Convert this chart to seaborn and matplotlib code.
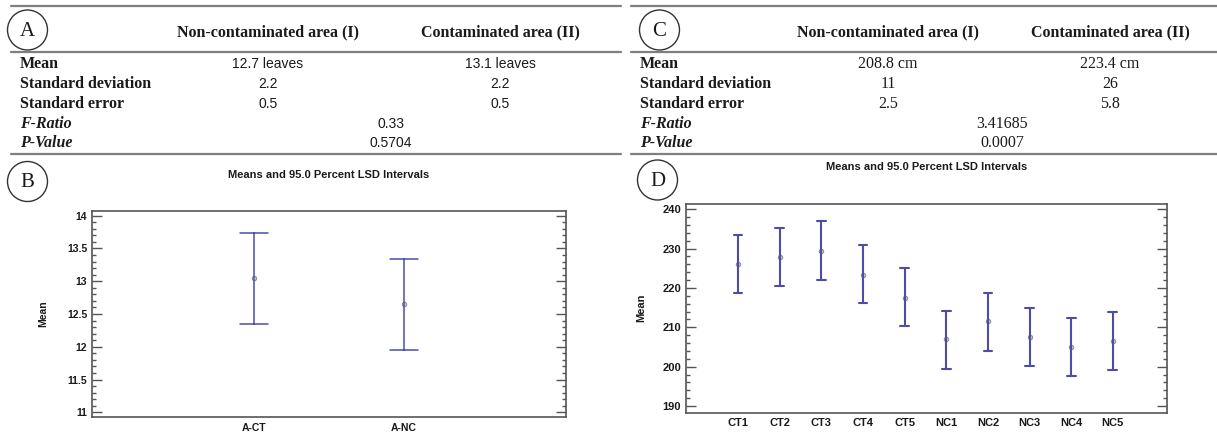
import numpy as np
import pandas as pd
import seaborn as sns
import matplotlib
matplotlib.use("Agg")
import matplotlib.pyplot as plt
from matplotlib.patches import Ellipse
from matplotlib.lines import Line2D
from matplotlib.ticker import MultipleLocator

# ---------------- data ----------------
row_labels = ["Mean", "Standard deviation", "Standard error", "F-Ratio", "P-Value"]
col_headers = ["Non-contaminated area (I)", "Contaminated area (II)"]

a_noncont = ["12.7 leaves", "2.2", "0.5"]
a_cont = ["13.1 leaves", "2.2", "0.5"]
a_fratio = "0.33"
a_pvalue = "0.5704"

c_noncont = ["208.8 cm", "11", "2.5"]
c_cont = ["223.4 cm", "26", "5.8"]
c_fratio = "3.41685"
c_pvalue = "0.0007"

plot_title = "Means and 95.0 Percent LSD Intervals"

b_groups = ["A-CT", "A-NC"]
b_mean = [13.05, 12.65]
b_low = [12.34, 11.95]
b_high = [13.74, 13.34]
b_yticks = [11, 11.5, 12, 12.5, 13, 13.5, 14]
b_yticklabels = ["11", "11.5", "12", "12.5", "13", "13.5", "14"]

d_groups = ["CT1", "CT2", "CT3", "CT4", "CT5", "NC1", "NC2", "NC3", "NC4", "NC5"]
d_mean = [226.0, 227.9, 229.4, 223.4, 217.5, 207.0, 211.5, 207.6, 205.0, 206.5]
d_low = [218.8, 220.5, 222.0, 216.1, 210.3, 199.4, 204.0, 200.2, 197.5, 199.2]
d_high = [233.5, 235.2, 236.9, 230.8, 225.0, 214.2, 218.8, 215.0, 212.3, 213.9]
d_yticks = [190, 200, 210, 220, 230, 240]

# ---------------- style ----------------
sns.set_style("white")
plt.rcParams["font.family"] = ["Liberation Sans", "DejaVu Sans"]

W, H = 1217, 434
fig = plt.figure(figsize=(W / 100, H / 100), dpi=100)

def fx(px):
    return px / W

def fy(py):
    return 1 - py / H

TXT = "#1a1a1a"
LINE = "#7f7f7f"
EBAR = "#4d4da8"
SPINE = "#555555"
SERIF = ["Liberation Serif", "DejaVu Serif"]
SANS = ["Liberation Sans", "DejaVu Sans"]


def circle_label(cx, cy, letter):
    e = Ellipse((fx(cx), fy(cy)), 40 / W, 40 / H, transform=fig.transFigure,
                fill=False, edgecolor="#333333", linewidth=1.0)
    fig.add_artist(e)
    fig.text(fx(cx), fy(cy + 1), letter, family=SERIF, fontsize=15, color=TXT,
             ha="center", va="center")


def hline(x0, x1, y):
    fig.add_artist(Line2D([fx(x0), fx(x1)], [fy(y), fy(y)], transform=fig.transFigure,
                          color=LINE, linewidth=1.6))


def table(x_lab, x_c1, x_c2, x_mid, x_line0, x_line1, circ_x, letter,
          noncont, cont, fratio, pvalue, val_family, val_size):
    hline(x_line0, x_line1, 6)
    hline(x_line0, x_line1, 52)
    hline(x_line0, x_line1, 154)
    circle_label(circ_x, 30, letter)
    fig.text(fx(x_c1), fy(32), col_headers[0], family=SERIF, fontsize=11.5,
             fontweight="bold", color=TXT, ha="center", va="center")
    fig.text(fx(x_c2), fy(32), col_headers[1], family=SERIF, fontsize=11.5,
             fontweight="bold", color=TXT, ha="center", va="center")
    row_y = [64, 83.5, 103.5, 123.5, 143.5]
    for i, lab in enumerate(row_labels):
        style = "italic" if i >= 3 else "normal"
        fig.text(fx(x_lab), fy(row_y[i]), lab, family=SERIF, fontsize=11.5,
                 fontweight="bold", fontstyle=style, color=TXT, ha="left", va="center")
    for i in range(3):
        fig.text(fx(x_c1), fy(row_y[i]), noncont[i], family=val_family, fontsize=val_size,
                 color=TXT, ha="center", va="center")
        fig.text(fx(x_c2), fy(row_y[i]), cont[i], family=val_family, fontsize=val_size,
                 color=TXT, ha="center", va="center")
    fig.text(fx(x_mid), fy(row_y[3]), fratio, family=val_family, fontsize=val_size,
             color=TXT, ha="center", va="center")
    fig.text(fx(x_mid), fy(row_y[4]), pvalue, family=val_family, fontsize=val_size,
             color=TXT, ha="center", va="center")


table(20, 268, 500, 391, 11, 621, 27.5, "A", a_noncont, a_cont, a_fratio, a_pvalue, SANS, 10)
table(640, 888, 1110, 1002, 631, 1217, 659.5, "C", c_noncont, c_cont, c_fratio, c_pvalue, SERIF, 11.5)


def long_df(groups, low, mean, high):
    rows = []
    for g, lo, m, hi in zip(groups, low, mean, high):
        for v in (lo, m, hi):
            rows.append({"group": g, "value": v})
    return pd.DataFrame(rows)


def interval_plot(ax, df, groups, capsize, lw, fs):
    sns.pointplot(data=df, x="group", y="value", order=groups,
                  estimator="median", errorbar=lambda v: (np.min(v), np.max(v)),
                  capsize=capsize, color=EBAR, linestyles="none", markers="o",
                  markersize=3.2, markeredgewidth=0.7, zorder=3,
                  err_kws={"linewidth": lw, "color": EBAR}, ax=ax)
    for ln in ax.lines:
        if ln.get_marker() == "o":
            ln.set_markerfacecolor("#c8c8c8")
            ln.set_markeredgecolor("#8a8a8a")
    ax.set_xlabel("")
    for s in ax.spines.values():
        s.set_visible(True)
        s.set_color(SPINE)
        s.set_linewidth(1.2)
    ax.tick_params(axis="y", which="both", direction="in", left=True, right=True,
                   color=SPINE, width=1.0, labelsize=fs, pad=3.5, labelcolor=TXT)
    ax.tick_params(axis="y", which="major", length=7)
    ax.tick_params(axis="y", which="minor", length=3)
    ax.tick_params(axis="x", length=0, labelsize=fs, pad=4, labelcolor=TXT)
    for t in ax.get_xticklabels() + ax.get_yticklabels():
        t.set_fontweight("bold")
    ax.set_title(plot_title, fontsize=8, fontweight="bold", color=TXT, y=1.175, pad=0,
                 va="center")


# Panel B
axB = fig.add_axes([fx(92), fy(417), fx(566) - fx(92), fy(211) - fy(417)])
interval_plot(axB, long_df(b_groups, b_low, b_mean, b_high), b_groups, 0.19, 1.1, 7.5)
axB.set_ylim(10.93, 14.07)
axB.set_xlim(-1.08, 2.08)
axB.set_yticks(b_yticks)
axB.set_yticklabels(b_yticklabels, fontweight="bold")
axB.yaxis.set_minor_locator(MultipleLocator(0.1))
axB.set_ylabel("Mean", fontsize=7.5, fontweight="bold", color=TXT)
axB.yaxis.set_label_coords(-0.093, 0.5)
circle_label(27.5, 181.5, "B")

# Panel D
axD = fig.add_axes([fx(686), fy(412.7), fx(1167) - fx(686), fy(203.7) - fy(412.7)])
interval_plot(axD, long_df(d_groups, d_low, d_mean, d_high), d_groups, 0.21, 1.5, 8)
axD.set_ylim(188.3, 241.4)
axD.set_xlim(-1.25, 10.3)
axD.set_yticks(d_yticks)
axD.set_yticklabels([str(v) for v in d_yticks], fontweight="bold")
axD.yaxis.set_minor_locator(MultipleLocator(2))
axD.set_ylabel("Mean", fontsize=8, fontweight="bold", color=TXT)
axD.yaxis.set_label_coords(-0.083, 0.5)
circle_label(657.5, 180, "D")

fig.savefig("out.png", dpi=100, facecolor="white")
